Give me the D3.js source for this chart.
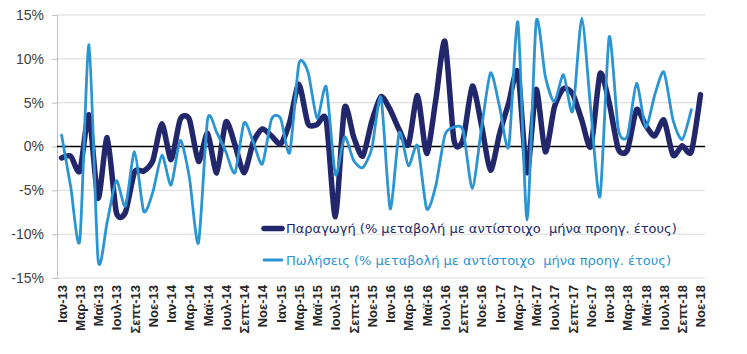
<!DOCTYPE html>
<html>
<head>
<meta charset="utf-8">
<script src="https://cdn.jsdelivr.net/npm/d3@7"></script>
<style>
  body { margin: 0; background: #fff; }
  svg { display: block; }
</style>
</head>
<body>
<div id="chart"></div>
<script>
// month names and years used for the category axis
const monthNames = ["Ιαν", "Φεβ", "Μαρ", "Απρ", "Μαϊ", "Ιουν", "Ιουλ", "Αυγ", "Σεπτ", "Οκτ", "Νοε", "Δεκ"];
const years = ["13", "14", "15", "16", "17", "18"];
const categories = [];
years.forEach(yy => monthNames.forEach(m => categories.push(m + "-" + yy)));
categories.length = 71; // Ιαν-13 ... Νοε-18

// % change vs same month of previous year
const production = [
  -1.3, -1.1, -2.8, 3.6, -5.9, 1.0, -7.5, -7.5, -2.9, -2.8, -1.6, 2.6,
  -1.5, 3.1, 3.1, -1.7, 1.5, -3.0, 2.8, 0.2, -3.0, 0.5, 2.0, 1.2,
  0.3, 2.8, 7.1, 2.6, 2.5, 3.0, -8.0, 4.4, 1.1, -1.1, 2.9, 5.7,
  4.2, 1.9, 0.2, 5.8, -0.8, 5.3, 12.0, 0.7, 0.8, 6.9, 2.5, -2.7,
  1.5, 5.0, 8.5, -3.0, 6.5, -0.6, 4.5, 6.6, 6.0, 3.0, 0.0, 8.3,
  5.0, -0.3, -0.4, 4.2, 2.4, 1.2, 3.0, -1.0, 0.1, -0.6, 5.9
];
const sales = [
  1.3, -4.6, -10.7, 11.6, -12.9, -8.6, -3.9, -6.8, -0.6, -7.4, -5.2, -1.0,
  -4.4, 0.7, -3.5, -11.0, 3.1, 1.6, -0.6, -3.0, 2.7, 0.5, -2.0, 3.1,
  3.2, -0.7, 9.4, 8.5, 3.2, 6.8, -3.2, 1.1, -1.6, -2.4, -0.2, 5.6,
  -7.1, 1.6, -2.2, 0.1, -7.1, -4.5, 1.3, 2.2, 1.8, -4.8, 2.0, 8.4,
  4.5, 0.0, 14.2, -8.4, 14.2, 8.0, 5.1, 8.2, 4.0, 14.6, 4.0, -5.7,
  12.5, 2.0, 1.2, 7.2, 2.2, 5.9, 8.5, 3.0, 0.8, 4.2, null
];
const yTicks = [-15, -10, -5, 0, 5, 10, 15];
const legendLabels = [
  "Παραγωγή (% μεταβολή με αντίστοιχο  μήνα προηγ. έτους)",
  "Πωλήσεις (% μεταβολή με αντίστοιχο  μήνα προηγ. έτους)"
];

const width = 747, height = 354;
const plot = { left: 57, right: 705, top: 15, bottom: 278 };
const darkBlue = "#21276a", lightBlue = "#2b95d3";

const svg = d3.select("#chart").append("svg")
  .attr("width", width)
  .attr("height", height)
  .style("background-color", "white");

const x = d3.scalePoint()
  .domain(d3.range(categories.length))
  .range([plot.left, plot.right])
  .padding(0.5);

const y = d3.scaleLinear()
  .domain([-15, 15])
  .range([plot.bottom, plot.top]);

// gridlines
svg.append("g").selectAll("line")
  .data(yTicks)
  .enter().append("line")
  .attr("x1", plot.left).attr("x2", plot.right)
  .attr("y1", d => y(d)).attr("y2", d => y(d))
  .attr("stroke", "#d9d9d9")
  .attr("stroke-width", 1);

// y axis
const yAxis = svg.append("g")
  .attr("transform", "translate(" + plot.left + ",0)")
  .call(d3.axisLeft(y).tickValues(yTicks).tickSize(5).tickPadding(8)
    .tickFormat(d => d + "%"));
yAxis.select(".domain").attr("stroke", "#bfbfbf");
yAxis.selectAll(".tick line").attr("stroke", "#bfbfbf");
yAxis.selectAll("text")
  .attr("font-family", "'Liberation Sans', Arial, sans-serif")
  .attr("font-size", "14px")
  .attr("fill", "#404040");

// x axis labels
const xAxis = svg.append("g")
  .attr("transform", "translate(0," + plot.bottom + ")")
  .call(d3.axisBottom(x)
    .tickValues(d3.range(0, categories.length, 2))
    .tickSize(0)
    .tickFormat(i => categories[i]));
xAxis.select(".domain").remove();
xAxis.selectAll("text")
  .attr("font-family", "'Liberation Sans', Arial, sans-serif")
  .attr("font-size", "13px")
  .attr("font-weight", "bold")
  .attr("fill", "#262626")
  .attr("transform", "rotate(-90)")
  .attr("text-anchor", "end")
  .attr("x", -7)
  .attr("y", 0)
  .attr("dy", "0.35em");

// zero line
svg.append("line")
  .attr("x1", plot.left).attr("x2", plot.right)
  .attr("y1", y(0)).attr("y2", y(0))
  .attr("stroke", "#000")
  .attr("stroke-width", 1.5);

const line = d3.line()
  .defined(d => d != null)
  .x((d, i) => x(i))
  .y(d => y(d))
  .curve(d3.curveCardinal.tension(0.3));

svg.append("path")
  .datum(production)
  .attr("d", line)
  .attr("fill", "none")
  .attr("stroke", darkBlue)
  .attr("stroke-width", 5.5)
  .attr("stroke-linejoin", "round")
  .attr("stroke-linecap", "round");

svg.append("path")
  .datum(sales)
  .attr("d", line)
  .attr("fill", "none")
  .attr("stroke", lightBlue)
  .attr("stroke-width", 2.8)
  .attr("stroke-linejoin", "round")
  .attr("stroke-linecap", "round");

// legend
const legend = svg.append("g").attr("class", "legend");
const legendItems = [
  { label: legendLabels[0], color: darkBlue, w: 5.5, y: 228.5 },
  { label: legendLabels[1], color: lightBlue, w: 2.8, y: 260 }
];
legendItems.forEach(d => {
  legend.append("line")
    .attr("x1", 264).attr("x2", 282)
    .attr("y1", d.y).attr("y2", d.y)
    .attr("stroke", d.color)
    .attr("stroke-width", d.w)
    .attr("stroke-linecap", "round");
  legend.append("text")
    .attr("x", 286)
    .attr("y", d.y + 4.5)
    .attr("font-family", "'DejaVu Sans', sans-serif")
    .attr("font-size", "13px")
    .attr("fill", d.color)
    .style("white-space", "pre")
    .text(d.label);
});
</script>
</body>
</html>
